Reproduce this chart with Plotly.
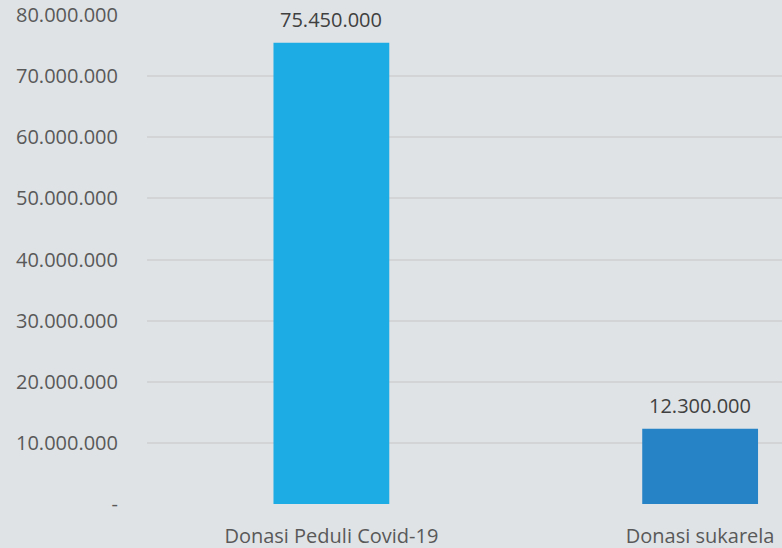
import plotly.graph_objects as go

categories = ["Donasi Peduli Covid-19", "Donasi sukarela"]
values = [75450000, 12300000]
bar_colors = ["#1eace4", "#2683c6"]
tick_vals = [0, 10000000, 20000000, 30000000, 40000000, 50000000, 60000000, 70000000, 80000000]
tick_text = ["-", "10.000.000", "20.000.000", "30.000.000", "40.000.000",
             "50.000.000", "60.000.000", "70.000.000", "80.000.000"]
value_labels = ["75.450.000", "12.300.000"]

FONT = "Open Sans"
fig = go.Figure()
fig.add_trace(go.Bar(
    x=[0, 1], y=values, marker=dict(color=bar_colors, line=dict(width=0)),
    width=0.314, hoverinfo="skip",
))
for i, (v, lab) in enumerate(zip(values, value_labels)):
    fig.add_annotation(x=i, y=v, text=lab, showarrow=False, yanchor="middle",
                       yshift=23, font=dict(family=FONT, size=20, color="#404040"))
fig.update_layout(
    width=782, height=548,
    margin=dict(l=147, r=0, t=15, b=44),
    paper_bgcolor="#dfe3e6", plot_bgcolor="#dfe3e6",
    showlegend=False,
    font=dict(family=FONT, size=20, color="#595959"),
    xaxis=dict(range=[-0.5, 1.222], tickvals=[0, 1], ticktext=categories,
               showgrid=False, zeroline=False, showline=False, automargin=False,
               ticklabelstandoff=18,
               tickfont=dict(size=20, color="#595959"), ticks=""),
    yaxis=dict(range=[0, 80000000], tickvals=tick_vals, ticktext=tick_text,
               showgrid=True, gridcolor="#d2d4d6", gridwidth=1.5,
               zeroline=False, showline=False, ticks="", automargin=False,
               ticklabelstandoff=28,
               tickfont=dict(size=20, color="#595959")),
)
fig.write_html("out.html", config={"displayModeBar": False},
               post_script="document.body.style.margin='0';document.body.style.background='#dfe3e6';document.body.style.overflow='hidden';")
